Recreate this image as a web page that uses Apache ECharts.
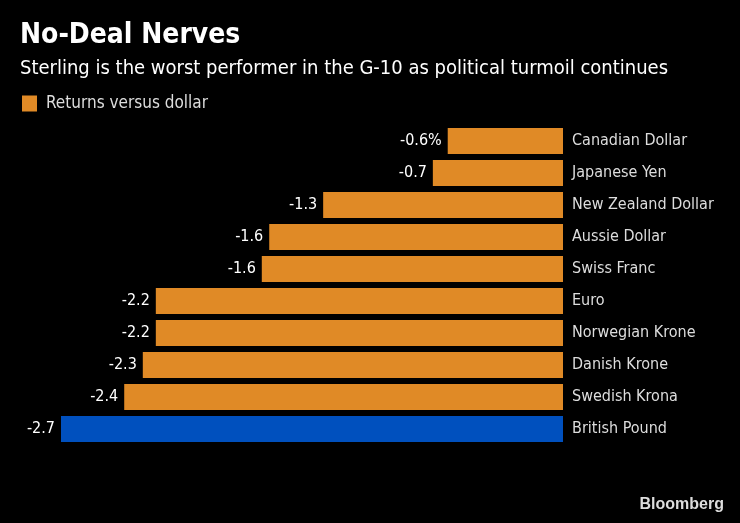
<!DOCTYPE html>
<html>
<head>
<meta charset="utf-8">
<script src="https://cdn.jsdelivr.net/npm/echarts@6/dist/echarts.min.js"></script>
<style>
  html, body { margin: 0; padding: 0; background: #000; }
  #chart { width: 740px; height: 523px; }
</style>
</head>
<body>
<div id="chart"></div>
<script>
// returns vs dollar, in %
const currencies = ["Canadian Dollar", "Japanese Yen", "New Zealand Dollar", "Aussie Dollar", "Swiss Franc",
  "Euro", "Norwegian Krone", "Danish Krone", "Swedish Krona", "British Pound"]
const returns = [-0.62, -0.70, -1.29, -1.58, -1.62, -2.19, -2.19, -2.26, -2.36, -2.70]
const highlight = "British Pound"

const FONT = "DejaVu Sans Condensed"
const ORANGE = "#e08a26"
const BLUE = "#0050be"

const chart = echarts.init(document.getElementById("chart"))

chart.setOption({
  backgroundColor: "#000",
  animation: false,
  textStyle: { fontFamily: FONT },
  title: [
    { text: "No-Deal Nerves", left: 15, top: 17,
      textStyle: { color: "#fff", fontSize: 28, fontWeight: "bold", fontFamily: FONT } },
    { text: "Sterling is the worst performer in the G-10 as political turmoil continues", left: 15, top: 54,
      textStyle: { color: "#fff", fontSize: 20, fontWeight: "normal", fontFamily: FONT } }
  ],
  legend: {
    left: 17, top: 90,
    itemWidth: 15, itemHeight: 16, itemGap: 8,
    icon: "rect",
    textStyle: { color: "#ddd", fontSize: 17, fontFamily: FONT, padding: [0, 0, 0, 4] },
    data: [{ name: "Returns versus dollar", itemStyle: { color: ORANGE } }]
  },
  grid: { left: 61, right: 177, top: 125, bottom: 78 },
  xAxis: {
    type: "value", min: -2.7, max: 0,
    show: false
  },
  yAxis: {
    type: "category", data: currencies, inverse: true, position: "right",
    axisLine: { show: false }, axisTick: { show: false },
    axisLabel: { color: "#ddd", fontSize: 16, margin: 9, fontFamily: FONT }
  },
  series: [{
    name: "Returns versus dollar",
    type: "bar",
    barCategoryGap: "19%",
    data: returns.map((v, i) => ({
      value: v,
      itemStyle: { color: currencies[i] === highlight ? BLUE : ORANGE }
    })),
    label: {
      show: true, position: "left", distance: 6,
      color: "#fff", fontSize: 16, fontFamily: FONT,
      formatter: p => p.value.toFixed(1) + (p.dataIndex === 0 ? "%" : "")
    }
  }],
  graphic: [{
    type: "text", right: 16, bottom: 10,
    style: { text: "Bloomberg", fill: "#ddd", fontSize: 16, fontWeight: "bold", fontFamily: "Liberation Sans Narrow, Liberation Sans" }
  }]
})

window.addEventListener("resize", () => chart.resize())
</script>
</body>
</html>
